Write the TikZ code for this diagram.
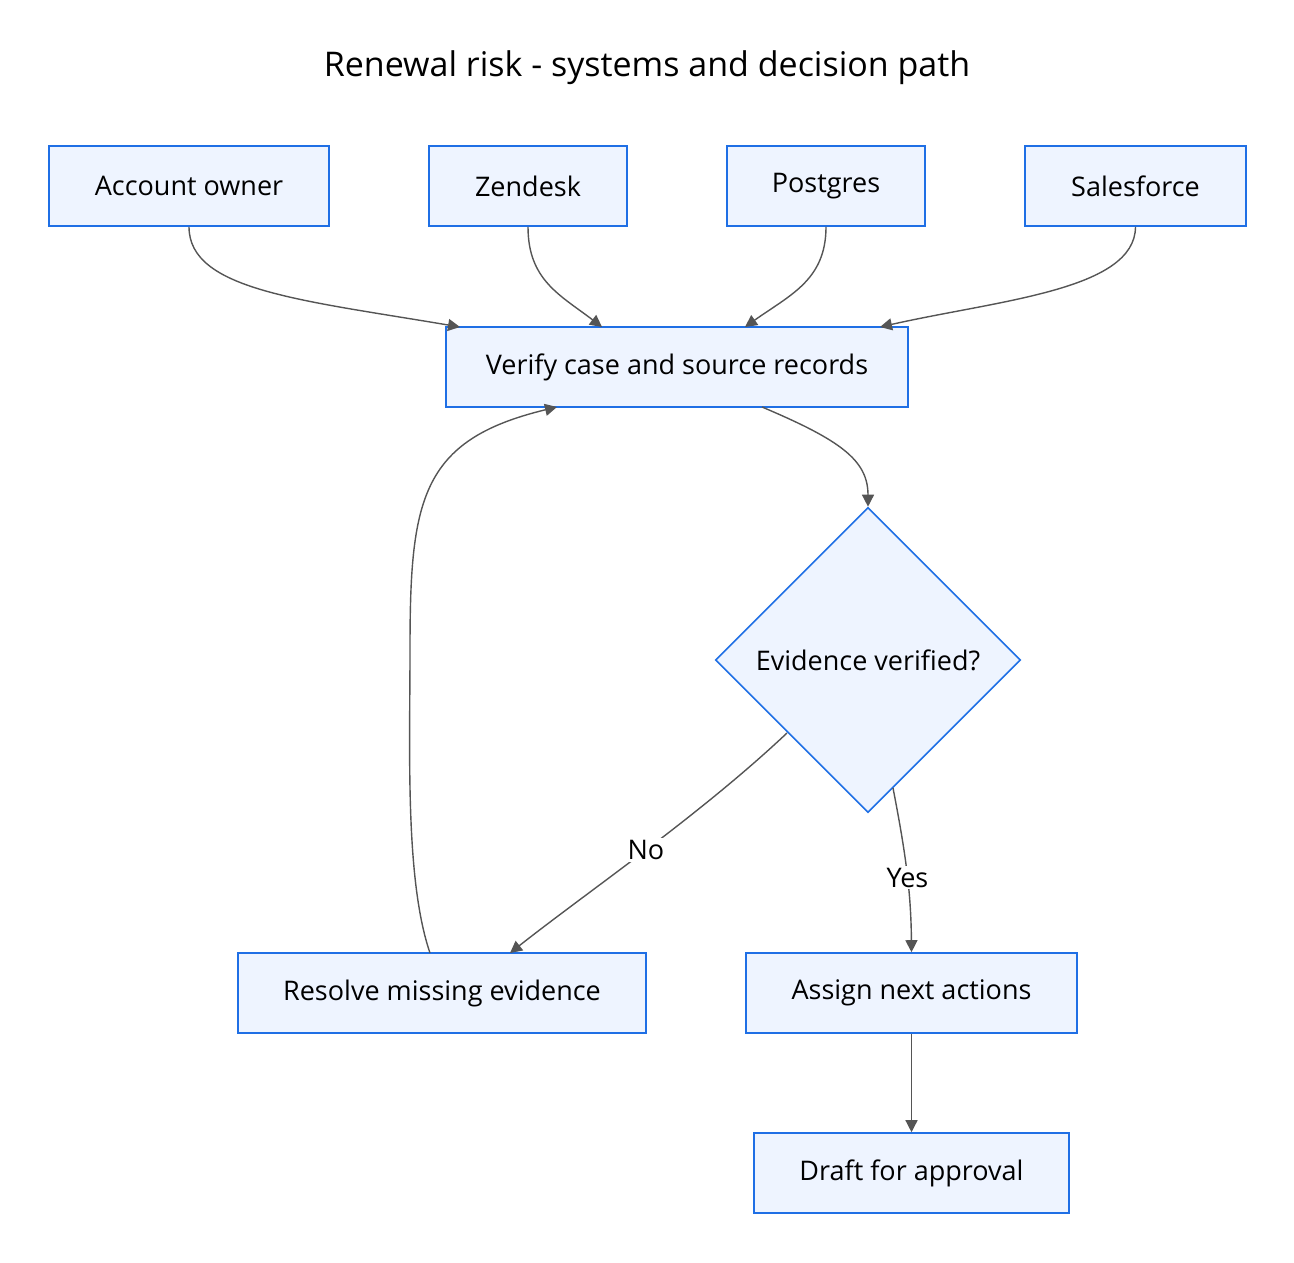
\documentclass[tikz,border=0pt]{standalone}
\usepackage{fontspec}
\setmainfont{Open Sans}
\usetikzlibrary{shapes.geometric,arrows.meta,calc}
\definecolor{bfill}{HTML}{EEF4FF}
\definecolor{bdraw}{HTML}{1F6FE5}
\definecolor{edge}{HTML}{555555}
\begin{document}
\begin{tikzpicture}[x=0.5pt,y=-0.5pt,
 box/.style={draw=bdraw,fill=bfill,line width=0.8pt,minimum height=40pt,inner sep=0pt,font=\fontsize{13.5}{16}\selectfont},
 dia/.style={diamond,draw=bdraw,fill=bfill,line width=0.8pt,minimum width=152.5pt,minimum height=152.5pt,inner sep=0pt,font=\fontsize{13.5}{16}\selectfont},
 conn/.style={draw=edge,line width=0.7pt,-{Triangle[length=6pt,width=6pt]}},
 lbl/.style={fill=white,inner sep=1pt,font=\fontsize{13.5}{16}\selectfont}]
\useasboundingbox (0,0) rectangle (1294,1262);
\node[font=\fontsize{17}{20}\selectfont] (title) at (647,68) {Renewal risk - systems and decision path};
\node[box,minimum width=140pt] (acc) at (189,186) {Account owner};
\node[box,minimum width=99pt] (zen) at (528,186) {Zendesk};
\node[box,minimum width=99pt] (pg) at (826,186) {Postgres};
\node[box,minimum width=110.5pt] (sf) at (1135.5,186) {Salesforce};
\node[box,minimum width=231pt] (ver) at (677,367) {Verify case and source records};
\node[dia] (dec) at (868,660) {Evidence verified?};
\node[box,minimum width=204pt] (res) at (442,993) {Resolve missing evidence};
\node[box,minimum width=165.5pt] (asg) at (911.5,993) {Assign next actions};
\node[box,minimum width=157.5pt] (dr) at (911.5,1173) {Draft for approval};
\coordinate (e1) at (460,327);
\coordinate (e2) at (602,327);
\coordinate (e3) at (745,327);
\coordinate (e4) at (880,327);
\draw[conn] (acc.south) .. controls (189,290) and (300,300) .. (e1);
\draw[conn] (zen.south) .. controls (528,280) and (560,295) .. (e2);
\draw[conn] (pg.south) .. controls (826,280) and (790,295) .. (e3);
\draw[conn] (sf.south) .. controls (1135,290) and (1000,300) .. (e4);
\coordinate (v1) at (762,407);
\draw[conn] (v1) .. controls (840,440) and (868,460) .. (dec.north);
\coordinate (d1) at (787,733);
\coordinate (r1) at (510,953);
\draw[conn] (d1) .. controls (700,815) and (590,890) .. node[lbl,pos=0.5]{No} (r1);
\coordinate (d2) at (893,788);
\draw[conn] (d2) .. controls (905,850) and (911,890) .. node[lbl,pos=0.55]{Yes} (asg.north);
\draw[conn] (asg.south) -- (dr.north);
\coordinate (r2) at (430,953);
\coordinate (v2) at (557,407);
\draw[conn] (r2) .. controls (405,880) and (410,750) .. (410,650) .. controls (410,500) and (420,440) .. (v2);
\end{tikzpicture}
\end{document}
